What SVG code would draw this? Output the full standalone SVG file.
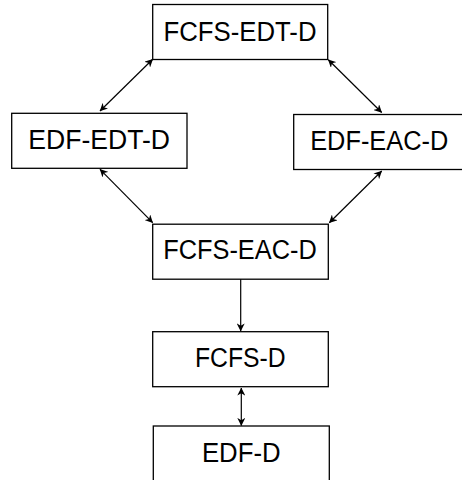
<svg xmlns="http://www.w3.org/2000/svg" width="462" height="480" viewBox="0 0 462 480">
  <style>
    .box rect { fill: #ffffff; stroke: #000000; stroke-width: 1.3; }
    .box text { font-family: "Liberation Sans", Arial, sans-serif; font-size: 27px; fill: #000000; text-anchor: middle; }
    .edges line { stroke: #000000; stroke-width: 1.2; fill: none; }
  </style>
  <defs>
    <marker id="head" viewBox="0 0 10 10" refX="9.5" refY="5" markerWidth="8" markerHeight="8" markerUnits="userSpaceOnUse" orient="auto-start-reverse">
      <path d="M0,0 L10,5 L0,10 L3,5 Z" fill="#000000"/>
    </marker>
  </defs>

  <g id="fcfs-edt-d" class="box">
    <rect x="152.7" y="4.5" width="175" height="55"/>
    <text x="240" y="41" textLength="153" lengthAdjust="spacingAndGlyphs">FCFS-EDT-D</text>
  </g>
  <g id="edf-edt-d" class="box">
    <rect x="11.7" y="113.3" width="175.3" height="55"/>
    <text x="99.2" y="149" textLength="141.7" lengthAdjust="spacingAndGlyphs">EDF-EDT-D</text>
  </g>
  <g id="edf-eac-d" class="box">
    <rect x="293.7" y="114.5" width="175" height="55"/>
    <text x="379.2" y="149.7" textLength="138" lengthAdjust="spacingAndGlyphs">EDF-EAC-D</text>
  </g>
  <g id="fcfs-eac-d" class="box">
    <rect x="152.7" y="224.2" width="175.6" height="55"/>
    <text x="240" y="259.3" textLength="153.4" lengthAdjust="spacingAndGlyphs">FCFS-EAC-D</text>
  </g>
  <g id="fcfs-d" class="box">
    <rect x="152.7" y="331.7" width="175.6" height="55"/>
    <text x="240.3" y="366.7" textLength="90.7" lengthAdjust="spacingAndGlyphs">FCFS-D</text>
  </g>
  <g id="edf-d" class="box">
    <rect x="153.3" y="426" width="176" height="60"/>
    <text x="241.3" y="461.7" textLength="78.7" lengthAdjust="spacingAndGlyphs">EDF-D</text>
  </g>

  <g id="connectors" class="edges">
    <line x1="152.7" y1="59.3" x2="100" y2="111" marker-start="url(#head)" marker-end="url(#head)"/>
    <line x1="328.3" y1="59.7" x2="381.7" y2="112.5" marker-start="url(#head)" marker-end="url(#head)"/>
    <line x1="100" y1="169.3" x2="152.7" y2="222.7" marker-start="url(#head)" marker-end="url(#head)"/>
    <line x1="381.7" y1="171" x2="329.3" y2="222.7" marker-start="url(#head)" marker-end="url(#head)"/>
    <line x1="240.7" y1="279.3" x2="240.7" y2="331" marker-end="url(#head)"/>
    <line x1="241.3" y1="388" x2="241.3" y2="425.5" marker-start="url(#head)" marker-end="url(#head)"/>
  </g>
</svg>
